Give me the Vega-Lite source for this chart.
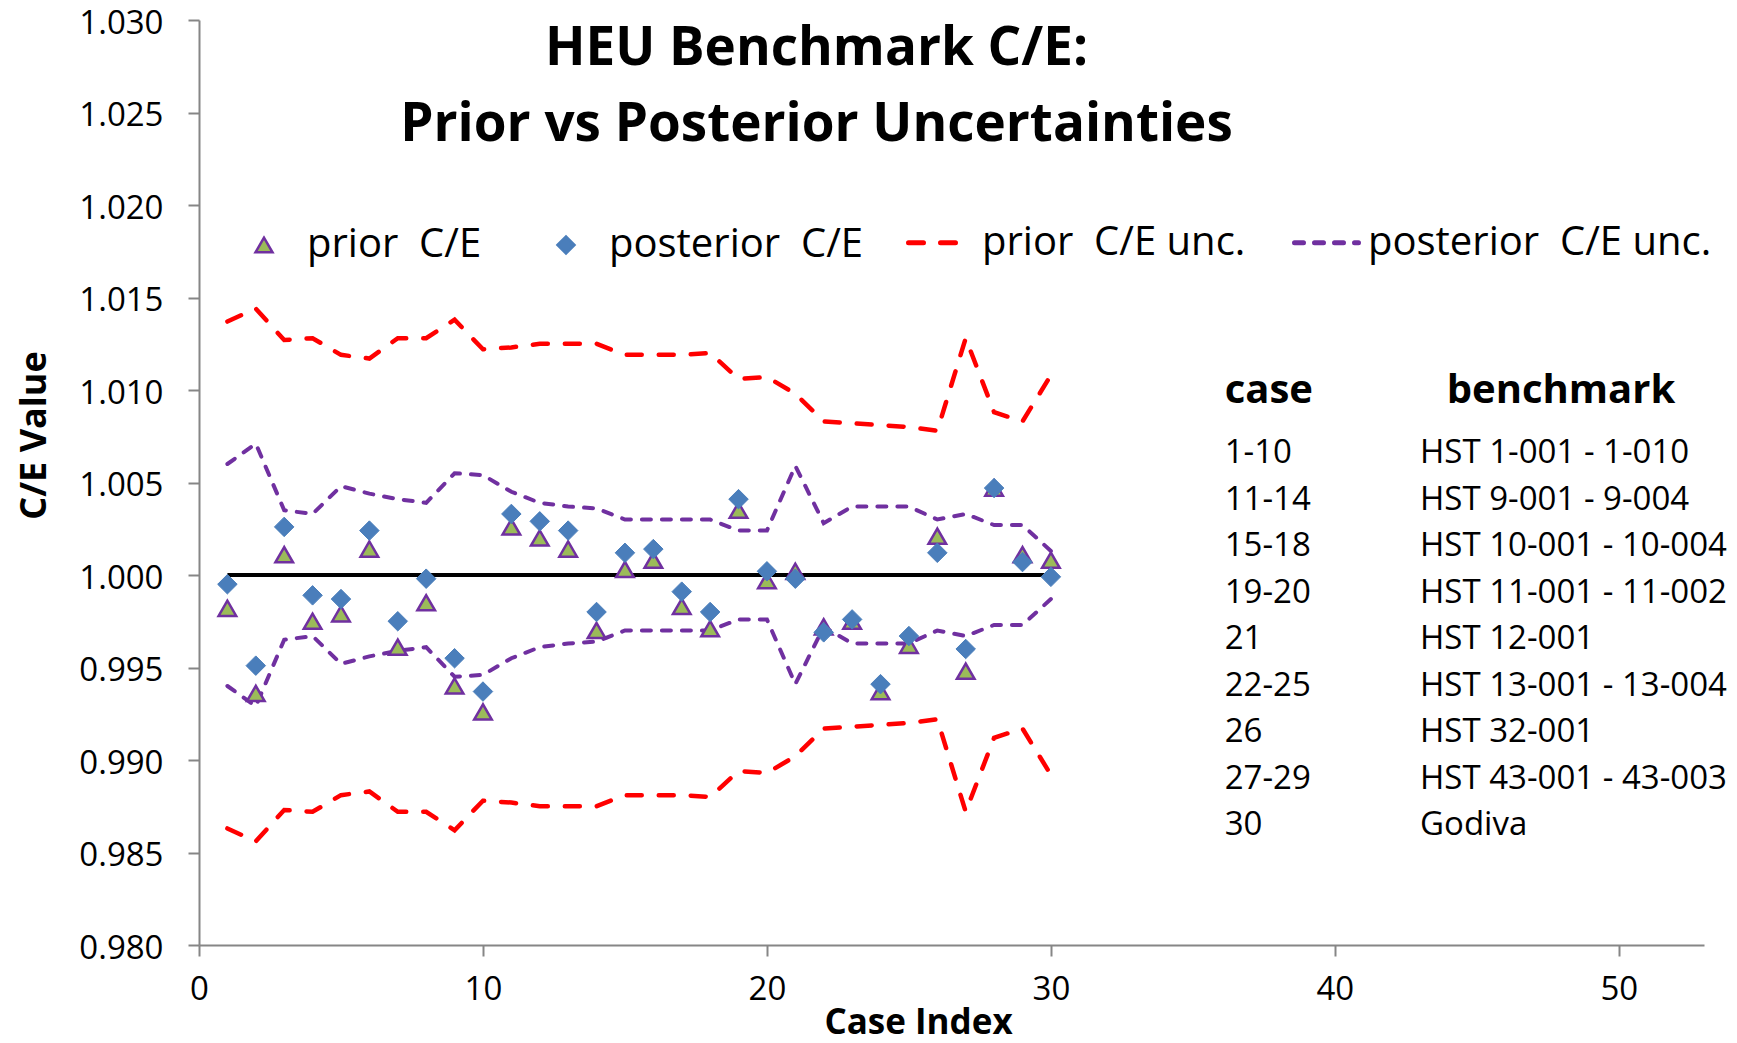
{
  "$schema": "https://vega.github.io/schema/vega-lite/v6.json",
  "width": 1505,
  "height": 925,
  "autosize": {"type": "none"},
  "padding": {"left": 199, "top": 20, "right": 33, "bottom": 98},
  "background": "white",
  "config": {
    "view": {"stroke": null},
    "font": "Open Sans",
    "axis": {
      "domainColor": "#868686", "domainWidth": 2, "tickColor": "#868686", "tickWidth": 2, "tickSize": 11,
      "grid": false, "labelFont": "Open Sans", "labelFontSize": 33, "labelColor": "#000000",
      "titleFont": "Open Sans", "titleColor": "#000000", "titleFontWeight": "bold"
    }
  },
  "title": {
    "text": ["HEU Benchmark C/E:", "Prior vs Posterior Uncertainties"],
    "font": "Open Sans", "fontSize": 53, "fontWeight": "bold", "color": "#000000",
    "anchor": "middle", "frame": "group", "dx": -135, "dy": 15, "baseline": "top", "lineHeight": 76, "offset": -130
  },
  "datasets": {
    "ce": [
      {"case": 1, "prior": 0.9982, "posterior": 0.9995, "prior_hi": 1.0137, "prior_lo": 0.9863, "post_hi": 1.0060, "post_lo": 0.9940},
      {"case": 2, "prior": 0.9936, "posterior": 0.9951, "prior_hi": 1.0144, "prior_lo": 0.9856, "post_hi": 1.0071, "post_lo": 0.9929},
      {"case": 3, "prior": 1.0011, "posterior": 1.0026, "prior_hi": 1.0127, "prior_lo": 0.9873, "post_hi": 1.0035, "post_lo": 0.9965},
      {"case": 4, "prior": 0.9975, "posterior": 0.9989, "prior_hi": 1.0128, "prior_lo": 0.9872, "post_hi": 1.0033, "post_lo": 0.9967},
      {"case": 5, "prior": 0.9979, "posterior": 0.9987, "prior_hi": 1.0119, "prior_lo": 0.9881, "post_hi": 1.0048, "post_lo": 0.9952},
      {"case": 6, "prior": 1.0014, "posterior": 1.0024, "prior_hi": 1.0117, "prior_lo": 0.9883, "post_hi": 1.0044, "post_lo": 0.9956},
      {"case": 7, "prior": 0.9961, "posterior": 0.9975, "prior_hi": 1.0128, "prior_lo": 0.9872, "post_hi": 1.0041, "post_lo": 0.9959},
      {"case": 8, "prior": 0.9985, "posterior": 0.9998, "prior_hi": 1.0128, "prior_lo": 0.9872, "post_hi": 1.0039, "post_lo": 0.9961},
      {"case": 9, "prior": 0.9940, "posterior": 0.9955, "prior_hi": 1.0138, "prior_lo": 0.9862, "post_hi": 1.0055, "post_lo": 0.9945},
      {"case": 10, "prior": 0.9926, "posterior": 0.9937, "prior_hi": 1.0122, "prior_lo": 0.9878, "post_hi": 1.0054, "post_lo": 0.9946},
      {"case": 11, "prior": 1.0026, "posterior": 1.0033, "prior_hi": 1.0123, "prior_lo": 0.9877, "post_hi": 1.0045, "post_lo": 0.9955},
      {"case": 12, "prior": 1.0020, "posterior": 1.0029, "prior_hi": 1.0125, "prior_lo": 0.9875, "post_hi": 1.0039, "post_lo": 0.9961},
      {"case": 13, "prior": 1.0014, "posterior": 1.0024, "prior_hi": 1.0125, "prior_lo": 0.9875, "post_hi": 1.0037, "post_lo": 0.9963},
      {"case": 14, "prior": 0.9970, "posterior": 0.9980, "prior_hi": 1.0125, "prior_lo": 0.9875, "post_hi": 1.0036, "post_lo": 0.9964},
      {"case": 15, "prior": 1.0003, "posterior": 1.0012, "prior_hi": 1.0119, "prior_lo": 0.9881, "post_hi": 1.0030, "post_lo": 0.9970},
      {"case": 16, "prior": 1.0008, "posterior": 1.0014, "prior_hi": 1.0119, "prior_lo": 0.9881, "post_hi": 1.0030, "post_lo": 0.9970},
      {"case": 17, "prior": 0.9983, "posterior": 0.9991, "prior_hi": 1.0119, "prior_lo": 0.9881, "post_hi": 1.0030, "post_lo": 0.9970},
      {"case": 18, "prior": 0.9971, "posterior": 0.9980, "prior_hi": 1.0120, "prior_lo": 0.9880, "post_hi": 1.0030, "post_lo": 0.9970},
      {"case": 19, "prior": 1.0035, "posterior": 1.0041, "prior_hi": 1.0106, "prior_lo": 0.9894, "post_hi": 1.0024, "post_lo": 0.9976},
      {"case": 20, "prior": 0.9997, "posterior": 1.0002, "prior_hi": 1.0107, "prior_lo": 0.9893, "post_hi": 1.0024, "post_lo": 0.9976},
      {"case": 21, "prior": 1.0002, "posterior": 0.9998, "prior_hi": 1.0098, "prior_lo": 0.9902, "post_hi": 1.0059, "post_lo": 0.9941},
      {"case": 22, "prior": 0.9972, "posterior": 0.9969, "prior_hi": 1.0083, "prior_lo": 0.9917, "post_hi": 1.0028, "post_lo": 0.9972},
      {"case": 23, "prior": 0.9975, "posterior": 0.9976, "prior_hi": 1.0082, "prior_lo": 0.9918, "post_hi": 1.0037, "post_lo": 0.9963},
      {"case": 24, "prior": 0.9937, "posterior": 0.9941, "prior_hi": 1.0081, "prior_lo": 0.9919, "post_hi": 1.0037, "post_lo": 0.9963},
      {"case": 25, "prior": 0.9962, "posterior": 0.9967, "prior_hi": 1.0080, "prior_lo": 0.9920, "post_hi": 1.0037, "post_lo": 0.9963},
      {"case": 26, "prior": 1.0021, "posterior": 1.0012, "prior_hi": 1.0078, "prior_lo": 0.9922, "post_hi": 1.0030, "post_lo": 0.9970},
      {"case": 27, "prior": 0.9948, "posterior": 0.9960, "prior_hi": 1.0128, "prior_lo": 0.9872, "post_hi": 1.0033, "post_lo": 0.9967},
      {"case": 28, "prior": 1.0047, "posterior": 1.0047, "prior_hi": 1.0088, "prior_lo": 0.9912, "post_hi": 1.0027, "post_lo": 0.9973},
      {"case": 29, "prior": 1.0011, "posterior": 1.0007, "prior_hi": 1.0083, "prior_lo": 0.9917, "post_hi": 1.0027, "post_lo": 0.9973},
      {"case": 30, "prior": 1.0008, "posterior": 0.9999, "prior_hi": 1.0108, "prior_lo": 0.9892, "post_hi": 1.0013, "post_lo": 0.9987}
    ],
    "table": [
      {"row": 1, "case": "1-10", "benchmark": "HST 1-001 - 1-010"},
      {"row": 2, "case": "11-14", "benchmark": "HST 9-001 - 9-004"},
      {"row": 3, "case": "15-18", "benchmark": "HST 10-001 - 10-004"},
      {"row": 4, "case": "19-20", "benchmark": "HST 11-001 - 11-002"},
      {"row": 5, "case": "21", "benchmark": "HST 12-001"},
      {"row": 6, "case": "22-25", "benchmark": "HST 13-001 - 13-004"},
      {"row": 7, "case": "26", "benchmark": "HST 32-001"},
      {"row": 8, "case": "27-29", "benchmark": "HST 43-001 - 43-003"},
      {"row": 9, "case": "30", "benchmark": "Godiva"}
    ]
  },
  "layer": [
    {
      "data": {"name": "ce"},
      "mark": {"type": "line", "strokeWidth": 4.5, "strokeCap": "round"},
      "encoding": {
        "x": {"field": "case", "type": "quantitative", "scale": {"domain": [0, 53], "nice": false, "zero": false},
          "axis": {"values": [0, 10, 20, 30, 40, 50], "format": "d", "labelFlush": false, "title": "Case Index", "titleFontSize": 35, "labelPadding": 17, "titleX": 719, "titleY": 88, "titleAlign": "center", "titleBaseline": "alphabetic", "orient": "bottom"}},
        "y": {"field": "prior_hi", "type": "quantitative", "scale": {"domain": [0.98, 1.03], "nice": false, "zero": false},
          "axis": {"values": [0.98, 0.985, 0.99, 0.995, 1, 1.005, 1.01, 1.015, 1.02, 1.025, 1.03], "format": ".3f", "title": "C/E Value", "titleFontSize": 36, "labelPadding": 25, "labelOffset": 3, "titleX": -154, "titleY": 415, "titleAngle": -90, "titleAlign": "center", "titleBaseline": "alphabetic", "orient": "left"}},
        "color": {"datum": "prior\u00a0 C/E unc.", "type": "nominal", "scale": {"domain": ["prior\u00a0 C/E unc.", "posterior\u00a0 C/E unc."], "range": ["#FF0000", "#7030A0"]},
          "legend": {"orient": "none", "legendX": 707, "legendY": 188, "direction": "horizontal", "title": null, "labelFont": "Open Sans", "labelFontSize": 40, "labelColor": "#000000", "labelLimit": 600, "symbolType": "stroke", "symbolSize": 4096, "symbolStrokeWidth": 5, "labelOffset": 7, "columnPadding": 38, "padding": 0, "encode": {"symbols": {"update": {"strokeCap": {"value": "round"}}}}}},
        "strokeDash": {"datum": "prior\u00a0 C/E unc.", "type": "nominal", "scale": {"domain": ["prior\u00a0 C/E unc.", "posterior\u00a0 C/E unc."], "range": [[15, 17], [9, 11]]},
          "legend": {"orient": "none", "legendX": 707, "legendY": 188, "direction": "horizontal", "title": null, "labelFont": "Open Sans", "labelFontSize": 40, "labelColor": "#000000", "labelLimit": 600, "symbolType": "stroke", "symbolSize": 4096, "symbolStrokeWidth": 5, "labelOffset": 7, "columnPadding": 38, "padding": 0, "encode": {"symbols": {"update": {"strokeCap": {"value": "round"}}}}}}
      }
    },
    {
      "data": {"values": [{"from": 1, "to": 30, "ce": 1}]},
      "mark": {"type": "rule", "color": "#000000", "strokeWidth": 4},
      "encoding": {
        "x": {"field": "from", "type": "quantitative", "scale": {"domain": [0, 53], "nice": false, "zero": false}, "axis": null},
        "x2": {"field": "to"},
        "y": {"field": "ce", "type": "quantitative", "scale": {"domain": [0.98, 1.03], "nice": false, "zero": false}, "axis": null}
      }
    },
    {
      "data": {"name": "ce"},
      "mark": {"type": "line", "strokeWidth": 4.5, "strokeCap": "round"},
      "encoding": {
        "x": {"field": "case", "type": "quantitative", "scale": {"domain": [0, 53], "nice": false, "zero": false}, "axis": null},
        "y": {"field": "prior_lo", "type": "quantitative", "scale": {"domain": [0.98, 1.03], "nice": false, "zero": false}, "axis": null},
        "color": {"datum": "prior\u00a0 C/E unc.", "type": "nominal"},
        "strokeDash": {"datum": "prior\u00a0 C/E unc.", "type": "nominal"}
      }
    },
    {
      "data": {"name": "ce"},
      "mark": {"type": "line", "strokeWidth": 4, "strokeCap": "round"},
      "encoding": {
        "x": {"field": "case", "type": "quantitative", "scale": {"domain": [0, 53], "nice": false, "zero": false}, "axis": null},
        "y": {"field": "post_hi", "type": "quantitative", "scale": {"domain": [0.98, 1.03], "nice": false, "zero": false}, "axis": null},
        "color": {"datum": "posterior\u00a0 C/E unc.", "type": "nominal"},
        "strokeDash": {"datum": "posterior\u00a0 C/E unc.", "type": "nominal"}
      }
    },
    {
      "data": {"name": "ce"},
      "mark": {"type": "line", "strokeWidth": 4, "strokeCap": "round"},
      "encoding": {
        "x": {"field": "case", "type": "quantitative", "scale": {"domain": [0, 53], "nice": false, "zero": false}, "axis": null},
        "y": {"field": "post_lo", "type": "quantitative", "scale": {"domain": [0.98, 1.03], "nice": false, "zero": false}, "axis": null},
        "color": {"datum": "posterior\u00a0 C/E unc.", "type": "nominal"},
        "strokeDash": {"datum": "posterior\u00a0 C/E unc.", "type": "nominal"}
      }
    },
    {
      "data": {"name": "ce"},
      "mark": {"type": "point", "filled": true, "opacity": 1, "size": 310, "strokeWidth": 2.5},
      "encoding": {
        "x": {"field": "case", "type": "quantitative", "scale": {"domain": [0, 53], "nice": false, "zero": false}, "axis": null},
        "y": {"field": "prior", "type": "quantitative", "scale": {"domain": [0.98, 1.03], "nice": false, "zero": false}, "axis": null},
        "shape": {"datum": "prior\u00a0 C/E", "type": "nominal", "scale": {"domain": ["prior\u00a0 C/E", "posterior\u00a0 C/E"], "range": ["triangle-up", "diamond"]},
          "legend": {"orient": "none", "legendX": 45, "legendY": 205, "direction": "horizontal", "title": null, "labelFont": "Open Sans", "labelFontSize": 40, "labelColor": "#000000", "labelLimit": 600, "symbolSize": 290, "symbolStrokeWidth": 2.5, "symbolOpacity": 1, "labelOffset": 23, "columnPadding": 64, "padding": 0}},
        "fill": {"datum": "prior\u00a0 C/E", "type": "nominal", "scale": {"domain": ["prior\u00a0 C/E", "posterior\u00a0 C/E"], "range": ["#9BBB59", "#4A7EBB"]},
          "legend": {"orient": "none", "legendX": 45, "legendY": 205, "direction": "horizontal", "title": null, "labelFont": "Open Sans", "labelFontSize": 40, "labelColor": "#000000", "labelLimit": 600, "symbolSize": 290, "symbolStrokeWidth": 2.5, "symbolOpacity": 1, "labelOffset": 23, "columnPadding": 64, "padding": 0}},
        "stroke": {"datum": "prior\u00a0 C/E", "type": "nominal", "scale": {"domain": ["prior\u00a0 C/E", "posterior\u00a0 C/E"], "range": ["#7030A0", "#4A7EBB"]},
          "legend": {"orient": "none", "legendX": 45, "legendY": 205, "direction": "horizontal", "title": null, "labelFont": "Open Sans", "labelFontSize": 40, "labelColor": "#000000", "labelLimit": 600, "symbolSize": 290, "symbolStrokeWidth": 2.5, "symbolOpacity": 1, "labelOffset": 23, "columnPadding": 64, "padding": 0}}
      }
    },
    {
      "data": {"name": "ce"},
      "mark": {"type": "point", "filled": true, "opacity": 1, "size": 380, "strokeWidth": 1},
      "encoding": {
        "x": {"field": "case", "type": "quantitative", "scale": {"domain": [0, 53], "nice": false, "zero": false}, "axis": null},
        "y": {"field": "posterior", "type": "quantitative", "scale": {"domain": [0.98, 1.03], "nice": false, "zero": false}, "axis": null},
        "shape": {"datum": "posterior\u00a0 C/E", "type": "nominal"},
        "fill": {"datum": "posterior\u00a0 C/E", "type": "nominal"},
        "stroke": {"datum": "posterior\u00a0 C/E", "type": "nominal"}
      }
    },
    {
      "data": {"name": "table"},
      "mark": {"type": "text", "align": "left", "baseline": "alphabetic", "font": "Open Sans", "fontSize": 33, "color": "#000000"},
      "encoding": {
        "x": {"datum": 36.12, "type": "quantitative", "scale": {"domain": [0, 53], "nice": false, "zero": false}, "axis": null},
        "y": {"field": "row", "type": "quantitative", "scale": {"domain": [-8.541, 11.368], "reverse": true, "nice": false, "zero": false}, "axis": null},
        "text": {"field": "case"}
      }
    },
    {
      "data": {"name": "table"},
      "mark": {"type": "text", "align": "left", "baseline": "alphabetic", "font": "Open Sans", "fontSize": 33, "color": "#000000"},
      "encoding": {
        "x": {"datum": 43.0, "type": "quantitative", "scale": {"domain": [0, 53], "nice": false, "zero": false}, "axis": null},
        "y": {"field": "row", "type": "quantitative", "scale": {"domain": [-8.541, 11.368], "reverse": true, "nice": false, "zero": false}, "axis": null},
        "text": {"field": "benchmark"}
      }
    },
    {
      "data": {"values": [{"h1": "case", "h2": "benchmark"}]},
      "mark": {"type": "text", "align": "left", "baseline": "alphabetic", "font": "Open Sans", "fontSize": 40, "fontWeight": "bold", "color": "#000000"},
      "encoding": {
        "x": {"datum": 36.12, "type": "quantitative", "scale": {"domain": [0, 53], "nice": false, "zero": false}, "axis": null},
        "y": {"datum": -0.291, "type": "quantitative", "scale": {"domain": [-8.541, 11.368], "reverse": true, "nice": false, "zero": false}, "axis": null},
        "text": {"field": "h1"}
      }
    },
    {
      "data": {"values": [{"h1": "case", "h2": "benchmark"}]},
      "mark": {"type": "text", "align": "left", "baseline": "alphabetic", "font": "Open Sans", "fontSize": 40, "fontWeight": "bold", "color": "#000000"},
      "encoding": {
        "x": {"datum": 43.94, "type": "quantitative", "scale": {"domain": [0, 53], "nice": false, "zero": false}, "axis": null},
        "y": {"datum": -0.291, "type": "quantitative", "scale": {"domain": [-8.541, 11.368], "reverse": true, "nice": false, "zero": false}, "axis": null},
        "text": {"field": "h2"}
      }
    }
  ],
  "resolve": {"scale": {"x": "independent", "y": "independent"}}
}
